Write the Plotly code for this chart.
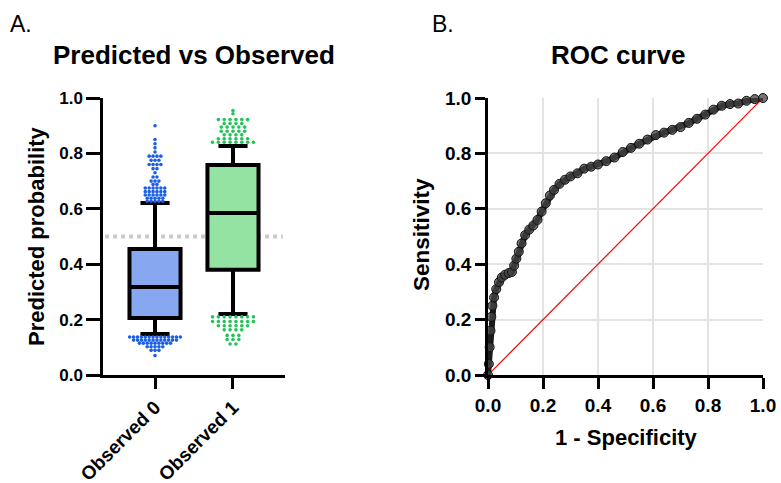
import plotly.graph_objects as go
from collections import Counter

# ---------------- data ----------------
groups = ["Observed 0", "Observed 1"]
q1 = [0.206, 0.380]
median = [0.318, 0.585]
q3 = [0.455, 0.758]
lower_whisker = [0.148, 0.220]
upper_whisker = [0.621, 0.827]
threshold = 0.5

# outliers (value read per row, repeated by count of dots in the row)
obs0_high = ([0.900, 0.850, 0.835, 0.820, 0.805] + [0.790] * 4 + [0.775] * 3 + [0.760] * 4
             + [0.745] * 2 + [0.730] + [0.715] * 2 + [0.700] * 3 + [0.688] * 2
             + [0.675] * 6 + [0.662] * 6 + [0.650] * 6 + [0.638] * 5 + [0.627] * 5)
obs0_low = [0.137] * 14 + [0.126] * 12 + [0.115] * 9 + [0.102] * 5 + [0.089] * 3 + [0.070]
obs1_high = ([0.955, 0.943] + [0.922] * 6 + [0.908] * 4 + [0.895] * 5 + [0.880] * 5
             + [0.867] * 4 + [0.853] * 6 + [0.840] * 8)
obs1_low = [0.210] * 8 + [0.193] * 8 + [0.178] * 6 + [0.163] * 4 + [0.143] * 3 + [0.128] * 3 + [0.112] * 2

roc_fpr = [0, 0.003, 0.006, 0.009, 0.012, 0.016, 0.022, 0.03, 0.04, 0.05, 0.062, 0.075, 0.087,
           0.095, 0.103, 0.112, 0.122, 0.135, 0.15, 0.165, 0.18, 0.195, 0.21, 0.225, 0.24,
           0.26, 0.28, 0.3, 0.325, 0.35, 0.375, 0.4, 0.43, 0.46, 0.49, 0.52, 0.55, 0.58,
           0.61, 0.64, 0.67, 0.7, 0.73, 0.76, 0.79, 0.82, 0.85, 0.88, 0.91, 0.94, 0.97, 1.0]
roc_tpr = [0, 0.04, 0.10, 0.16, 0.21, 0.25, 0.28, 0.31, 0.335, 0.352, 0.362, 0.368, 0.372,
           0.395, 0.42, 0.445, 0.475, 0.505, 0.525, 0.54, 0.56, 0.59, 0.62, 0.648, 0.668,
           0.69, 0.705, 0.717, 0.728, 0.745, 0.752, 0.76, 0.772, 0.785, 0.805, 0.82, 0.835,
           0.85, 0.866, 0.875, 0.885, 0.895, 0.91, 0.925, 0.94, 0.958, 0.972, 0.978, 0.98,
           0.99, 0.996, 1.0]
chance = [0, 1]

# the page body margin is removed (post_script), so the figure fills the window
W, H = 781, 483
def px(x):
    return x / W
def py(y):
    return 1 - y / H

FONT = "Liberation Sans, Arial, sans-serif"
box_fill = ["#87a8f0", "#95e3a2"]
dot_col = ["#1c5ee6", "#22c45a"]
dot_dx = [0.05, 0.075]

def row_offsets(values, center, dx):
    counts = Counter(values)
    seen = Counter()
    xs = []
    for v in values:
        n = counts[v]
        i = seen[v]
        seen[v] += 1
        xs.append(center + (i - (n - 1) / 2) * dx)
    return xs

fig = go.Figure()

for i, g in enumerate(groups):
    fig.add_trace(go.Box(
        x=[i], q1=[q1[i]], median=[median[i]], q3=[q3[i]],
        lowerfence=[lower_whisker[i]], upperfence=[upper_whisker[i]],
        fillcolor=box_fill[i], line=dict(color="black", width=4),
        width=0.655, whiskerwidth=0.57, boxpoints=False, showlegend=False,
        xaxis="x", yaxis="y", hoverinfo="skip"))

for i, (hi, lo) in enumerate([(obs0_high, obs0_low), (obs1_high, obs1_low)]):
    vals = hi + lo
    xs = row_offsets(hi, i, dot_dx[i]) + row_offsets(lo, i, dot_dx[i])
    fig.add_trace(go.Scatter(
        x=xs, y=vals, mode="markers",
        marker=dict(color=dot_col[i], size=3.6, line=dict(width=0)),
        showlegend=False, xaxis="x", yaxis="y", cliponaxis=False))

# ROC
fig.add_trace(go.Scatter(
    x=chance, y=chance, mode="lines", line=dict(color="#ff0000", width=1.2),
    showlegend=False, xaxis="x2", yaxis="y2"))
fig.add_trace(go.Scatter(
    x=roc_fpr, y=roc_tpr, mode="lines+markers",
    line=dict(color="#1a1a1a", width=6),
    marker=dict(size=9, color="rgba(70,70,70,0.75)", line=dict(color="#111111", width=1)),
    showlegend=False, xaxis="x2", yaxis="y2", cliponaxis=False))

# threshold dotted line
fig.add_shape(type="line", xref="x", yref="y", x0=-0.64, x1=1.64, y0=threshold, y1=threshold,
              line=dict(color="#c9c9c9", width=4, dash="4px,4px"), layer="below")

ydom = [py(375), py(98)]
axis_common = dict(showline=True, linecolor="black", linewidth=2.5, ticks="outside",
                   tickcolor="black", tickwidth=2.5, zeroline=False, automargin=False)

fig.update_layout(
    width=W, height=H, margin=dict(l=0, r=0, t=0, b=0),
    paper_bgcolor="white", plot_bgcolor="white",
    font=dict(family=FONT, color="black"),
    xaxis=dict(domain=[px(103), px(285)], range=[-0.667, 1.667], tickvals=[0, 1],
               ticktext=groups, tickangle=-45, ticklen=11, showgrid=False,
               tickfont=dict(size=19, family=FONT, weight="bold"), anchor="y", **axis_common),
    yaxis=dict(domain=ydom, range=[0, 1], tickvals=[0, 0.2, 0.4, 0.6, 0.8, 1.0],
               tickformat=".1f", ticklen=14, showgrid=False,
               tickfont=dict(size=17, family=FONT, weight="bold"), anchor="x", **axis_common),
    xaxis2=dict(domain=[px(488), px(763)], range=[0, 1], tickvals=[0, 0.2, 0.4, 0.6, 0.8, 1.0],
                tickformat=".1f", ticklen=11, showgrid=True, gridcolor="#e3e3e3", gridwidth=2,
                tickfont=dict(size=19, family=FONT, weight="bold"), anchor="y2", **axis_common),
    yaxis2=dict(domain=ydom, range=[0, 1], tickvals=[0, 0.2, 0.4, 0.6, 0.8, 1.0],
                tickformat=".1f", ticklen=10, showgrid=True, gridcolor="#e3e3e3", gridwidth=2,
                tickfont=dict(size=19, family=FONT, weight="bold"), anchor="x2", **axis_common),
)

ann = [
    dict(text="A.", x=px(21), y=py(24), font=dict(size=23)),
    dict(text="B.", x=px(443), y=py(24), font=dict(size=23)),
    dict(text="<b>Predicted vs Observed</b>", x=px(194), y=py(55), font=dict(size=26)),
    dict(text="<b>ROC curve</b>", x=px(618), y=py(55), font=dict(size=26)),
    dict(text="<b>Predicted probability</b>", x=px(36), y=py(236), textangle=-90, font=dict(size=22)),
    dict(text="<b>Sensitivity</b>", x=px(421), y=py(235), textangle=-90, font=dict(size=22.5)),
    dict(text="<b>1 - Specificity</b>", x=px(626), y=py(437), font=dict(size=22)),
]
for a in ann:
    fig.add_annotation(xref="paper", yref="paper", xanchor="center", yanchor="middle",
                       showarrow=False, **a)

fig.write_html("out.html", config={"displayModeBar": False},
               post_script="document.body.style.margin='0';document.body.style.overflow='hidden';")
